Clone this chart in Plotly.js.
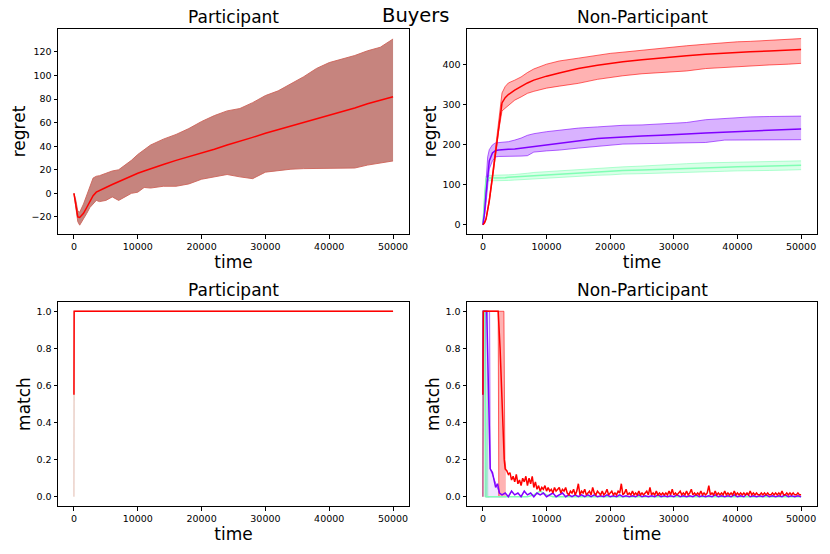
<!DOCTYPE html>
<html>
<head>
<meta charset="utf-8">
<script src="https://cdn.plot.ly/plotly-3.0.1.min.js"></script>
<style>
  html, body { margin: 0; padding: 0; background: #fff; }
  #graphDiv { width: 830px; height: 554px; }
</style>
</head>
<body>
<div id="graphDiv"></div>
<script>
// Participant regret (all three runs coincide, drawn as one red line with a brown band)
const pTime = [0, 300, 600, 900, 1500, 2000, 2500, 3000, 3500, 4000, 5000, 6000, 7000, 8000, 9000, 10000,
  11000, 12000, 14000, 16000, 18000, 20000, 22000, 24000, 26000, 28000, 30000, 32000, 34000, 36000, 38000,
  40000, 42000, 44000, 46000, 48000, 50000];
const pMean = [0, -10, -20, -20.5, -17, -12, -7, -2, 1, 2.5, 5, 7.5, 10, 12.5, 15, 17,
  19, 21, 24.5, 28, 31, 34, 37.5, 41, 44, 47.5, 51, 54, 57, 60, 63,
  66, 69, 72.5, 76, 79, 82];
const pUpper = [0, -6, -15, -16, -9, -2, 6, 13, 14.5, 15, 17, 19, 20, 24, 28, 33,
  37, 41, 46, 50, 55, 61, 66, 70, 72, 77, 83, 87, 93, 99, 106,
  111, 114, 117, 121, 124, 131];
const pLower = [0, -14, -24, -27, -22, -17, -12, -9, -6, -7, -6, -3, -6, -3, 0, 1,
  5, 4.5, 6, 6, 8, 12, 14, 16, 14, 12.5, 18, 19.5, 20.5, 21, 21,
  21, 21, 21.5, 24, 25.5, 27.5];

// Non-participant regret
const npTime = [0, 250, 500, 750, 1000, 1500, 2000, 2500, 3000, 3500, 4000, 5000, 6000, 7000, 8000, 10000,
  12000, 15000, 18000, 20000, 22000, 25000, 28000, 30000, 32000, 35000, 38000, 40000, 42000, 45000, 48000, 50000];
const redMean = [0, 5, 15, 35, 60, 120, 185, 250, 305, 318, 326, 337, 347, 355, 362, 372,
  380, 391, 399, 404, 408, 413, 418, 421, 423, 427, 430, 431, 433, 435, 437, 439];
const redUpper = [0, 6, 17, 38, 64, 126, 193, 262, 330, 346, 355, 362, 370, 381, 390, 402,
  410, 417, 425, 429, 432, 437, 443, 446, 448, 452, 456, 458, 459, 461, 463, 466];
const redLower = [0, 4, 13, 32, 56, 114, 177, 238, 285, 292, 298, 312, 320, 329, 334, 342,
  347, 354, 364, 369, 373, 378, 381, 383, 385, 391, 394, 396, 397, 400, 402, 404];
const purpleMean = [0, 30, 80, 130, 160, 180, 186, 187, 188, 189, 189, 190, 192, 195, 197, 201,
  205, 211, 216, 218, 220, 222, 224, 225, 227, 230, 232, 234, 235, 237, 239, 240];
const purpleUpper = [0, 40, 110, 170, 188, 200, 205, 206, 206, 207, 208, 212, 217, 224, 228, 233,
  237, 242, 245, 247, 249, 250, 252, 254, 256, 263, 266, 268, 270, 271, 272, 272];
const purpleLower = [0, 22, 55, 100, 140, 160, 170, 171, 171, 171, 171, 172, 172, 173, 182, 185,
  187, 192, 197, 200, 202, 203, 204, 205, 206, 206, 212, 212, 213, 213, 213, 213];
const greenMean = [0, 70, 115, 117, 117, 117, 118, 118, 118, 118, 119, 120, 121, 122, 123, 125,
  127, 130, 133, 134, 136, 137, 139, 140, 141, 143, 144, 145, 146, 147, 148, 149];
const greenUpper = [0, 80, 122, 124, 124, 124, 124, 124, 124, 124, 125, 126, 127, 129, 131, 133,
  136, 139, 142, 143, 145, 147, 150, 152, 153, 155, 156, 157, 158, 159, 160, 160];
const greenLower = [0, 60, 108, 110, 110, 110, 110, 111, 111, 111, 111, 112, 113, 114, 115, 117,
  119, 121, 124, 125, 127, 128, 129, 130, 131, 133, 134, 135, 135, 136, 137, 138];

// Participant match
const pmTime = [0, 30, 200, 50000];
const pmMean = [0.55, 1, 1, 1];
const pmUpper = [1, 1, 1, 1];
const pmLower = [0, 1, 1, 1];

// Non-participant match, start of the runs
const redEarlyTime = [0, 60, 500, 1000, 1500, 2000, 2400, 2700, 3000, 3350, 3500];
const redEarly = [0.55, 1, 1, 1, 1, 1, 1, 0.8, 0.5, 0.2, 0.15];
const redBandTime = [0, 60, 2400, 2500, 3300, 3450, 3600];
const redBandUpper = [1, 1, 1, 1, 1, 0.2, 0.15];
const redBandLower = [0, 1, 1, 0, 0, 0, 0];

const purpleEarlyTime = [0, 60, 600, 900, 1150, 1500, 1800, 2000, 2300, 2600];
const purpleEarly = [0.55, 1, 1, 0.6, 0.15, 0.13, 0.08, 0.05, 0.07, 0.02];
const purpleBandTime = [0, 60, 400, 470, 1050, 1150, 2600];
const purpleBandUpper = [1, 1, 1, 1, 1, 0.15, 0.02];
const purpleBandLower = [0, 1, 1, 0, 0, 0, 0];

const greenEarlyTime = [0, 60, 250, 350, 500];
const greenEarly = [0.55, 1, 1, 0.5, 0];
const greenBandTime = [0, 60, 250, 300, 700, 760, 1000];
const greenBandUpper = [1, 1, 1, 1, 1, 0, 0];
const greenBandLower = [0, 1, 1, 0, 0, 0, 0];

// Non-participant match, later samples (red every 250 from 3750, purple every 500 from 3000, green every 1000 from 1000)
const redTailStart = 3750, redTailStep = 250;
const redTail = [
  0.14, 0.12, 0.13, 0.09, 0.11, 0.08, 0.12, 0.07, 0.09, 0.06,
  0.10, 0.08, 0.11, 0.06, 0.10, 0.07, 0.11, 0.05, 0.08, 0.04,
  0.06, 0.03, 0.05, 0.04, 0.06, 0.03, 0.05, 0.03, 0.04, 0.02,
  0.05, 0.03, 0.04, 0.05, 0.02, 0.04, 0.03, 0.05, 0.02, 0.01,
  0.03, 0.02, 0.04, 0.01, 0.03, 0.07, 0.01, 0.03, 0.02, 0.04,
  0.01, 0.02, 0.03, 0.01, 0.05, 0.02, 0.01, 0.03, 0.02, 0.01,
  0.03, 0.01, 0.02, 0.04, 0.01, 0.02, 0.03, 0.01, 0.02, 0.01,
  0.03, 0.02, 0.07, 0.01, 0.02, 0.04, 0.01, 0.02, 0.01, 0.03,
  0.01, 0.02, 0.01, 0.03, 0.01, 0.02, 0.01, 0.02, 0.03, 0.01,
  0.05, 0.01, 0.02, 0.01, 0.03, 0.01, 0.02, 0.01, 0.02, 0.01,
  0.02, 0.01, 0.03, 0.01, 0.04, 0.01, 0.02, 0.01, 0.02, 0.03,
  0.01, 0.02, 0.01, 0.03, 0.01, 0.02, 0.04, 0.01, 0.02, 0.01,
  0.02, 0.01, 0.03, 0.01, 0.02, 0.01, 0.02, 0.06, 0.01, 0.02,
  0.01, 0.03, 0.01, 0.02, 0.01, 0.02, 0.01, 0.03, 0.01, 0.02,
  0.01, 0.02, 0.01, 0.03, 0.01, 0.02, 0.01, 0.02, 0.01, 0.02,
  0.01, 0.02, 0.01, 0.03, 0.01, 0.02, 0.01, 0.02, 0.01, 0.01,
  0.02, 0.01, 0.02, 0.01, 0.02, 0.01, 0.01, 0.02, 0.01, 0.02,
  0.01, 0.02, 0.01, 0.03, 0.01, 0.01, 0.02, 0.01, 0.02, 0.01,
  0.02, 0.01, 0.01, 0.02, 0.01, 0.01];
const purpleTailStart = 3000, purpleTailStep = 500;
const purpleTail = [
  0.01, 0.02, 0.00, 0.03, 0.01, 0.02, 0.00, 0.03, 0.01, 0.02,
  0.00, 0.02, 0.01, 0.02, 0.00, 0.01, 0.02, 0.00, 0.01, 0.02,
  0.00, 0.01, 0.00, 0.01, 0.00, 0.01, 0.00, 0.01, 0.00, 0.01,
  0.00, 0.005, 0.00, 0.01, 0.00, 0.005, 0.00, 0.01, 0.00, 0.005,
  0.00, 0.005, 0.00, 0.01, 0.00, 0.005, 0.00, 0.005, 0.00, 0.01,
  0.00, 0.005, 0.00, 0.005, 0.00, 0.01, 0.00, 0.005, 0.00, 0.005,
  0.00, 0.01, 0.00, 0.005, 0.00, 0.005, 0.00, 0.01, 0.00, 0.005,
  0.00, 0.005, 0.00, 0.01, 0.00, 0.005, 0.00, 0.015, 0.00, 0.005,
  0.00, 0.005, 0.00, 0.01, 0.00, 0.005, 0.00, 0.005, 0.00, 0.01,
  0.00, 0.005, 0.00, 0.005, 0.00];
const greenTailStart = 1000, greenTailStep = 1000;
const greenTail = [
  0, 0, 0, 0, 0, 0, 0, 0.01, 0.03, 0.01,
  0, 0, 0, 0, 0, 0, 0, 0, 0, 0,
  0, 0, 0, 0, 0, 0, 0, 0, 0, 0,
  0, 0, 0, 0, 0, 0, 0, 0, 0, 0,
  0, 0, 0, 0, 0, 0, 0, 0, 0, 0];

const RED = '#ff0000', PURPLE = '#8000ff', GREEN = '#80ffb4';
const FONT = 'DejaVu Sans, sans-serif';

function tailTimes(start, step, n) {
  const t = [];
  for (let i = 0; i < n; i++) t.push(start + i * step);
  return t;
}

function band(x, lower, upper, fill, edge, xa, ya) {
  return [
    {x: x, y: lower, mode: 'lines', type: 'scatter', line: {color: edge, width: 1},
     xaxis: xa, yaxis: ya, showlegend: false, hoverinfo: 'skip'},
    {x: x, y: upper, mode: 'lines', type: 'scatter', line: {color: edge, width: 1},
     fill: 'tonexty', fillcolor: fill, xaxis: xa, yaxis: ya, showlegend: false, hoverinfo: 'skip'}
  ];
}

function line(x, y, color, xa, ya) {
  return {x: x, y: y, mode: 'lines', type: 'scatter', line: {color: color, width: 1.5},
          xaxis: xa, yaxis: ya, showlegend: false};
}

let data = [];
// top left
data = data.concat(band(pTime, pLower, pUpper, 'rgba(190,115,108,0.88)', 'rgba(205,100,90,0.9)', 'x', 'y'));
data.push(line(pTime, pMean, RED, 'x', 'y'));
// top right
data = data.concat(band(npTime, greenLower, greenUpper, 'rgba(128,255,180,0.3)', 'rgba(128,255,180,0.6)', 'x2', 'y2'));
data = data.concat(band(npTime, purpleLower, purpleUpper, 'rgba(128,0,255,0.3)', 'rgba(128,0,255,0.6)', 'x2', 'y2'));
data = data.concat(band(npTime, redLower, redUpper, 'rgba(255,0,0,0.3)', 'rgba(255,0,0,0.6)', 'x2', 'y2'));
data.push(line(npTime, greenMean, GREEN, 'x2', 'y2'));
data.push(line(npTime, purpleMean, PURPLE, 'x2', 'y2'));
data.push(line(npTime, redMean, RED, 'x2', 'y2'));
// bottom left
data = data.concat(band(pmTime, pmLower, pmUpper, 'rgba(210,140,120,0.3)', 'rgba(205,140,120,0.6)', 'x3', 'y3'));
data.push(line(pmTime, pmMean, RED, 'x3', 'y3'));
// bottom right
data = data.concat(band(greenBandTime, greenBandLower, greenBandUpper, 'rgba(128,255,180,0.12)', 'rgba(128,255,180,0.7)', 'x4', 'y4'));
data = data.concat(band(purpleBandTime, purpleBandLower, purpleBandUpper, 'rgba(128,0,255,0.1)', 'rgba(128,0,255,0.6)', 'x4', 'y4'));
data = data.concat(band(redBandTime, redBandLower, redBandUpper, 'rgba(255,0,0,0.3)', 'rgba(255,0,0,0.6)', 'x4', 'y4'));
data.push(line(greenEarlyTime.concat(tailTimes(greenTailStart, greenTailStep, greenTail.length)),
               greenEarly.concat(greenTail), GREEN, 'x4', 'y4'));
data.push(line(purpleEarlyTime.concat(tailTimes(purpleTailStart, purpleTailStep, purpleTail.length)),
               purpleEarly.concat(purpleTail), PURPLE, 'x4', 'y4'));
data.push(line(redEarlyTime.concat(tailTimes(redTailStart, redTailStep, redTail.length)),
               redEarly.concat(redTail), RED, 'x4', 'y4'));

function xAxis(domain, anchor) {
  return {
    domain: domain, anchor: anchor, range: [-2500, 52500],
    tickvals: [0, 10000, 20000, 30000, 40000, 50000], tickformat: 'd',
    showline: true, mirror: true, linecolor: '#000', linewidth: 1,
    ticks: 'outside', ticklen: 3.5, tickcolor: '#000', showgrid: false, zeroline: false,
    tickfont: {family: FONT, size: 9.5, color: '#000'},
    title: {text: 'time', font: {family: FONT, size: 17, color: '#000'}, standoff: 2}
  };
}
function yAxis(domain, anchor, range, dtick, fmt, label) {
  return {
    domain: domain, anchor: anchor, range: range, dtick: dtick, tick0: 0, tickformat: fmt,
    showline: true, mirror: true, linecolor: '#000', linewidth: 1,
    ticks: 'outside', ticklen: 3.5, tickcolor: '#000', showgrid: false, zeroline: false,
    tickfont: {family: FONT, size: 9.5, color: '#000'},
    title: {text: label, font: {family: FONT, size: 17, color: '#000'}, standoff: 1}
  };
}

const colL = [58 / 830, 409 / 830], colR = [467 / 830, 817 / 830];
const rowT = [1 - 234 / 554, 1 - 29 / 554], rowB = [1 - 506 / 554, 1 - 302 / 554];

function caption(text, x, y, size) {
  return {text: text, x: x, y: y, xref: 'paper', yref: 'paper', showarrow: false,
          xanchor: 'center', yanchor: 'bottom', font: {family: FONT, size: size, color: '#000'}};
}

let layout = {
  width: 830, height: 554,
  margin: {l: 0, r: 0, t: 0, b: 0},
  paper_bgcolor: '#fff', plot_bgcolor: '#fff',
  xaxis: xAxis(colL, 'y'),
  yaxis: yAxis(rowT, 'x', [-34.5, 139.5], 20, 'd', 'regret'),
  xaxis2: xAxis(colR, 'y2'),
  yaxis2: yAxis(rowT, 'x2', [-23, 490], 100, 'd', 'regret'),
  xaxis3: xAxis(colL, 'y3'),
  yaxis3: yAxis(rowB, 'x3', [-0.05, 1.05], 0.2, '.1f', 'match'),
  xaxis4: xAxis(colR, 'y4'),
  yaxis4: yAxis(rowB, 'x4', [-0.05, 1.05], 0.2, '.1f', 'match'),
  annotations: [
    caption('Participant', (colL[0] + colL[1]) / 2, rowT[1], 17),
    caption('Non-Participant', (colR[0] + colR[1]) / 2, rowT[1], 17),
    caption('Participant', (colL[0] + colL[1]) / 2, rowB[1], 17),
    caption('Non-Participant', (colR[0] + colR[1]) / 2, rowB[1], 17),
    caption('Buyers', 0.5, 1 - 29 / 554, 19.5)
  ]
};

Plotly.newPlot('graphDiv', data, layout, {staticPlot: true});
</script>
</body>
</html>
